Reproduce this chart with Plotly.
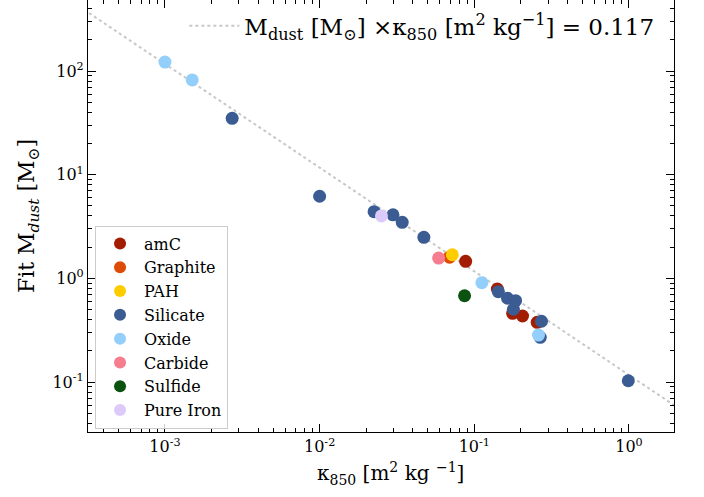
import numpy as np
import plotly.graph_objects as go

# ---- data ----
amC_kappa = [0.0879, 0.141, 0.177, 0.205, 0.255]
amC_mass = [1.46, 0.79, 0.46, 0.434, 0.377]

graphite_kappa = [0.0692]
graphite_mass = [1.60]

pah_kappa = [0.0721]
pah_mass = [1.69]

silicate_kappa = [2.72e-3, 0.0100, 0.0225, 0.0298, 0.0342, 0.0472, 0.143, 0.164, 0.185, 0.179, 0.272, 0.267, 0.99]
silicate_mass = [35.0, 6.2, 4.4, 4.1, 3.47, 2.49, 0.745, 0.643, 0.61, 0.504, 0.386, 0.27, 0.103]

oxide_kappa = [1.0e-3, 1.5e-3, 0.112, 0.260]
oxide_mass = [122.0, 82.0, 0.91, 0.284]

carbide_kappa = [0.0588]
carbide_mass = [1.57]

sulfide_kappa = [0.0865]
sulfide_mass = [0.68]

iron_kappa = [0.0251]
iron_mass = [4.0]

product_const = 0.117
line_kappa = [3.0e-4, 2.2]

x_tickvals = [1e-3, 1e-2, 1e-1, 1e0]
x_ticktext = ["10<sup>-3</sup>", "10<sup>-2</sup>", "10<sup>-1</sup>", "10<sup>0</sup>"]
y_tickvals = [1e-1, 1e0, 1e1, 1e2]
y_ticktext = ["10<sup>-1</sup>", "10<sup>0</sup>", "10<sup>1</sup>", "10<sup>2</sup>"]
minor_mults = [2, 3, 4, 5, 6, 7, 8, 9]
minor_decades = [1e-4, 1e-3, 1e-2, 1e-1, 1e0, 1e1, 1e2]
minor_vals = [m * d for d in minor_decades for m in minor_mults]

groups = [
    ("amC", amC_kappa, amC_mass, "#a21d02"),
    ("Graphite", graphite_kappa, graphite_mass, "#dc4c04"),
    ("PAH", pah_kappa, pah_mass, "#ffcc00"),
    ("Silicate", silicate_kappa, silicate_mass, "#3b5b93"),
    ("Oxide", oxide_kappa, oxide_mass, "#94cffb"),
    ("Carbide", carbide_kappa, carbide_mass, "#f67c8f"),
    ("Sulfide", sulfide_kappa, sulfide_mass, "#0b5211"),
    ("Pure Iron", iron_kappa, iron_mass, "#dccafa"),
]

FONT = "DejaVu Serif"

fig = go.Figure()

lk = np.array(line_kappa)
fig.add_trace(go.Scatter(
    x=lk, y=product_const / lk, mode="lines",
    line=dict(color="#c8c8c8", width=2, dash="dot"),
    name="M<sub>dust</sub> [M<sub>⊙</sub>] ×κ<sub>850</sub> [m<sup>2</sup> kg<sup>−1</sup>] = 0.117",
    legend="legend2",
))

for name, xs, ys, col in groups:
    fig.add_trace(go.Scatter(
        x=xs, y=ys, mode="markers", name=name,
        marker=dict(size=13, color=col, line=dict(width=0)),
        legend="legend",
    ))

axis_common = dict(
    type="log", showgrid=False, zeroline=False, automargin=False,
    showline=True, linecolor="black", linewidth=1.2, mirror="ticks",
    ticks="inside", ticklen=8, tickwidth=1.2, tickcolor="black",
    tickmode="array",
    minor=dict(ticks="inside", ticklen=4, tickwidth=1, tickcolor="black",
               showgrid=False, tickmode="array", tickvals=minor_vals),
    tickfont=dict(family=FONT, size=16, color="black"),
)

fig.update_xaxes(**axis_common, range=[np.log10(3.18e-4), np.log10(1.955)],
                 tickvals=x_tickvals, ticktext=x_ticktext)
fig.update_yaxes(**axis_common, range=[np.log10(0.033), np.log10(484)],
                 tickvals=y_tickvals, ticktext=y_ticktext,
                 title=dict(text="Fit M<sub><i>dust</i></sub> [M<sub>⊙</sub>]",
                            font=dict(family=FONT, size=22, color="black"), standoff=11))

fig.add_annotation(
    text="κ<sub>850</sub> [m<sup>2</sup> kg <sup>−1</sup>]",
    xref="paper", yref="paper", x=0.517, y=-0.095,
    xanchor="center", yanchor="middle", showarrow=False,
    font=dict(family=FONT, size=20, color="black"),
)

fig.update_layout(
    width=704, height=497,
    margin=dict(l=88, r=30, t=0, b=65, autoexpand=False),
    plot_bgcolor="white", paper_bgcolor="white",
    font=dict(family=FONT, color="black"),
    legend=dict(
        x=0.012, y=0.008, xanchor="left", yanchor="bottom",
        bgcolor="rgba(255,255,255,0.8)", bordercolor="#cccccc", borderwidth=1,
        font=dict(family=FONT, size=16, color="black"),
        itemsizing="constant", tracegroupgap=0, itemwidth=38,
    ),
    legend2=dict(
        x=0.975, y=0.99, xanchor="right", yanchor="top",
        bgcolor="rgba(255,255,255,0)", borderwidth=0,
        font=dict(family=FONT, size=23, color="black"),
        itemwidth=50,
    ),
    showlegend=True,
)

fig.write_html("out.html", config={"displayModeBar": False},
               post_script="document.body.style.margin='0';")
